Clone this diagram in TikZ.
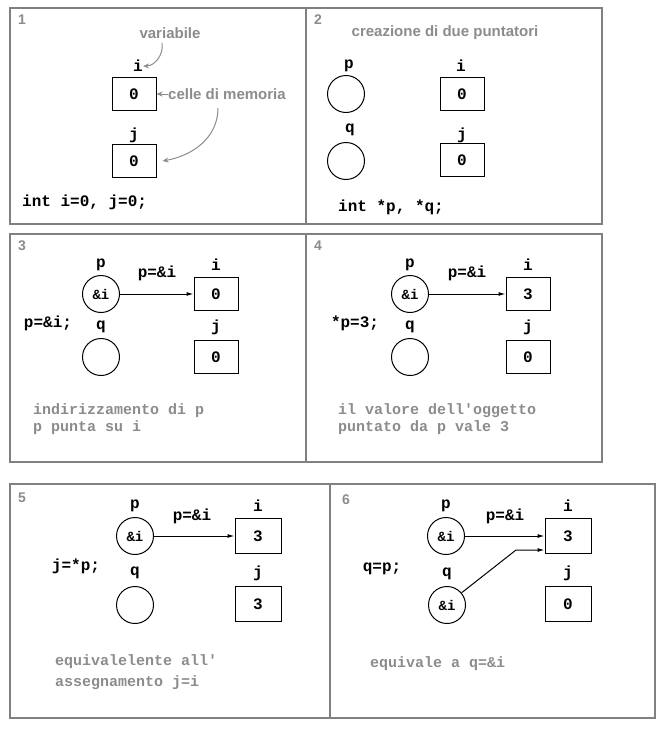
\documentclass[tikz,border=0pt]{standalone}
\usepackage{fontspec}
\setmainfont{Liberation Sans}
\newfontfamily\cmono{Liberation Mono}
\usetikzlibrary{arrows.meta}
\definecolor{fr}{RGB}{128,128,128}
\definecolor{gt}{RGB}{140,140,140}
\begin{document}
\begin{tikzpicture}[x=1pt,y=-1pt,
  code/.style={font=\cmono\bfseries\fontsize{16}{17}\selectfont, inner sep=0pt},
  gcode/.style={font=\cmono\bfseries\fontsize{15}{16}\selectfont, text=gt, inner sep=0pt, anchor=west},
  num/.style={font=\rmfamily\bfseries\fontsize{14}{15}\selectfont, text=gt, inner sep=0pt},
  note/.style={font=\rmfamily\bfseries\fontsize{15}{16}\selectfont, text=gt, inner sep=0pt},
  cell/.style={draw, line width=1pt, minimum width=44pt, minimum height=33pt, inner sep=0pt, font=\cmono\bfseries\fontsize{16}{17}\selectfont},
  ptr/.style={draw, circle, line width=1pt, minimum size=37pt, inner sep=0pt, font=\cmono\bfseries\fontsize{14}{15}\selectfont},
  frame/.style={draw=fr, line width=1.2pt},
  link/.style={line width=1pt, -{Latex[length=7pt,width=4pt]}},
  garr/.style={draw=gt, line width=1pt, -{Stealth[length=6pt,width=5pt]}}]
\useasboundingbox (0,0) rectangle (671,739);
\fill[white] (0,0) rectangle (671,739);
% frames
\draw[frame] (10,8) rectangle (306,224);
\draw[frame] (306,8) rectangle (602,224);
\draw[frame] (10,234) rectangle (306,462);
\draw[frame] (306,234) rectangle (602,462);
\draw[frame] (10,484) rectangle (330,718);
\draw[frame] (330,484) rectangle (655,718);
% panel 1
\node[num] (n1) at (22,20) {1};
\node[note] (var) at (170,33) {variabile};
\node[code] (li1) at (138,66) {i};
\node[cell] (bi1) at (134,94) {0};
\node[code] (lj1) at (134,135) {j};
\node[cell] (bj1) at (134,161) {0};
\node[note,anchor=west] (mem) at (168,94) {celle di memoria};
\node[code,anchor=west] (c1) at (22,202) {int i=0, j=0;};
\draw[garr] (mem.west) -- (bi1.east);
\draw[garr] (162,43) to[out=-80,in=0] (li1.east);
\draw[garr] (218,108) to[out=-90,in=10] ([xshift=6pt]bj1.east);
% panel 2
\node[num] (n2) at (318,20) {2};
\node[note] (cr) at (445,33) {creazione di due puntatori};
\node[code] (lp2) at (349,66) {p};
\node[ptr] (cp2) at (346,94) {};
\node[code] (li2) at (461,66) {i};
\node[cell] (bi2) at (462,94) {0};
\node[code] (lq2) at (350,130) {q};
\node[ptr] (cq2) at (346,161) {};
\node[code] (lj2) at (462,135) {j};
\node[cell] (bj2) at (462,160) {0};
\node[code,anchor=west] (c2) at (338,207) {int *p, *q;};
% panel 3
\node[num] (n3) at (22,246) {3};
\node[code] (lp3) at (101,265) {p};
\node[ptr] (cp3) at (101,294) {\&i};
\node[code] (a3) at (157,273) {p=\&i};
\node[code] (li3) at (216,265) {i};
\node[cell] (bi3) at (216,294) {0};
\node[code] (c3) at (48,323) {p=\&i;};
\node[code] (lq3) at (101,327) {q};
\node[ptr] (cq3) at (101,357) {};
\node[code] (lj3) at (216,327) {j};
\node[cell] (bj3) at (216,357) {0};
\draw[link] (cp3) -- (bi3);
\node[gcode] (t3a) at (33,411) {indirizzamento di p};
\node[gcode] (t3b) at (33,428) {p punta su i};
% panel 4
\node[num] (n4) at (318,246) {4};
\node[code] (lp4) at (410,265) {p};
\node[ptr] (cp4) at (410,294) {\&i};
\node[code] (a4) at (467,273) {p=\&i};
\node[code] (li4) at (528,265) {i};
\node[cell] (bi4) at (528,294) {3};
\node[code] (c4) at (355,323) {*p=3;};
\node[code] (lq4) at (410,327) {q};
\node[ptr] (cq4) at (410,357) {};
\node[code] (lj4) at (528,327) {j};
\node[cell] (bj4) at (528,357) {0};
\draw[link] (cp4) -- (bi4);
\node[gcode] (t4a) at (338,411) {il valore dell'oggetto};
\node[gcode] (t4b) at (338,428) {puntato da p vale 3};
% panel 5
\node[num] (n5) at (22,498) {5};
\node[code] (lp5) at (135,506) {p};
\node[ptr] (cp5) at (135,536) {\&i};
\node[code] (a5) at (192,516) {p=\&i};
\node[code] (li5) at (258,506) {i};
\node[cell,minimum width=46pt,minimum height=35pt] (bi5) at (258,536) {3};
\node[code] (c5) at (76,566) {j=*p;};
\node[code] (lq5) at (135,573) {q};
\node[ptr] (cq5) at (135,605) {};
\node[code] (lj5) at (258,573) {j};
\node[cell,minimum width=46pt,minimum height=35pt] (bj5) at (258,604) {3};
\draw[link] (cp5) -- (bi5);
\node[gcode] (t5a) at (55,662) {equivalelente all'};
\node[gcode] (t5b) at (55,683) {assegnamento j=i};
% panel 6
\node[num] (n6) at (346,500) {6};
\node[code] (lp6) at (446,506) {p};
\node[ptr] (cp6) at (446,536) {\&i};
\node[code] (a6) at (505,516) {p=\&i};
\node[code] (li6) at (568,506) {i};
\node[cell,minimum width=46pt,minimum height=35pt] (bi6) at (568,536) {3};
\node[code] (c6) at (382,569) {q=p;};
\node[code] (lq6) at (447,574) {q};
\node[ptr] (cq6) at (447,605) {\&i};
\node[code] (lj6) at (568,573) {j};
\node[cell,minimum width=46pt,minimum height=35pt] (bj6) at (568,604) {0};
\draw[link] (cp6) -- (bi6);
\coordinate (k6) at (516,550);
\draw[link] (cq6.40) -- (k6) -- (bi6.west |- k6);
\node[gcode] (t6) at (370,664) {equivale a q=\&i};
\end{tikzpicture}
\end{document}
